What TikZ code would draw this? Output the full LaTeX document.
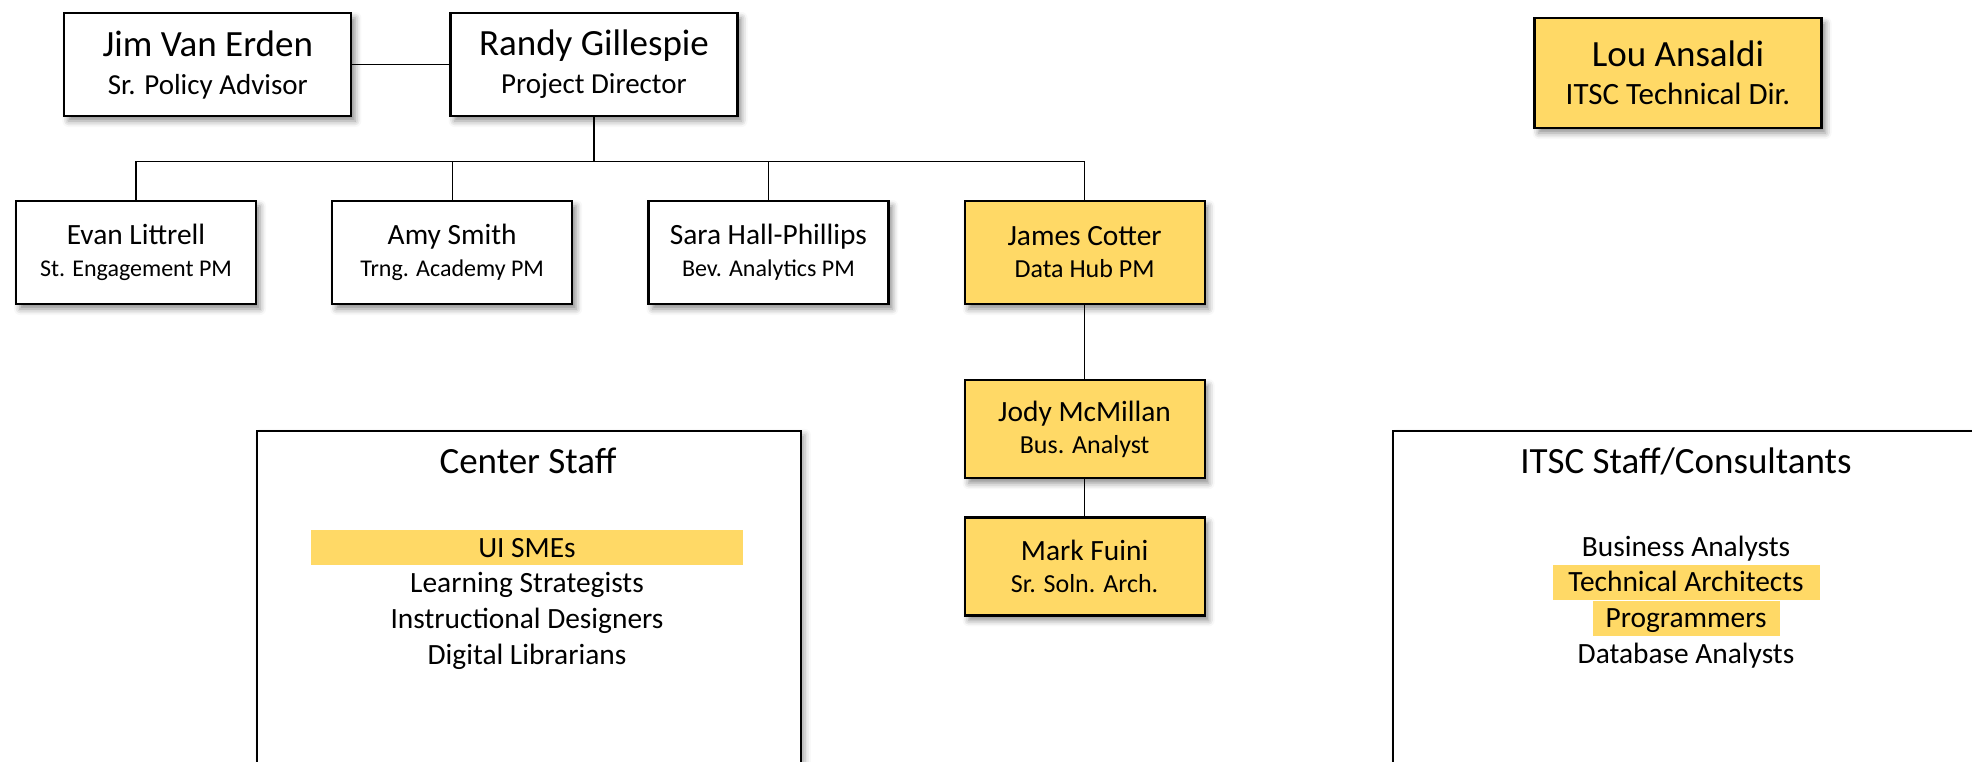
\documentclass[tikz,border=0pt]{standalone}
\usepackage{fontspec}
\setmainfont{Carlito}
\usepackage{tikz}
\usetikzlibrary{positioning, shadows.blur}

\definecolor{hubgold}{HTML}{FFD966}

\newcommand{\leadname}{\fontsize{18.5pt}{19pt}\selectfont}
\newcommand{\leadrole}{\fontsize{14.5pt}{19pt}\selectfont}
\newcommand{\pmname}{\fontsize{14.7pt}{16pt}\selectfont}
\newcommand{\pmrole}{\fontsize{12pt}{16pt}\selectfont}
\newcommand{\hubrole}{\fontsize{13pt}{16pt}\selectfont}
\newcommand{\rosterfont}{\fontsize{14.7pt}{17.5pt}\selectfont}
\newcommand{\paneltitlefont}{\fontsize{18.5pt}{20pt}\selectfont}

\tikzset{
  staffbox/.style={draw, line width=1.1pt, fill=white, align=center, inner sep=0pt,
    blur shadow={shadow xshift=2pt, shadow yshift=-2.5pt, shadow blur radius=3pt, shadow opacity=45}},
  leadbox/.style={staffbox, minimum width=143.5pt, minimum height=51.5pt, font=\leadrole},
  pmbox/.style={staffbox, minimum width=120pt, minimum height=51.5pt, font=\pmrole},
  hubbox/.style={pmbox, fill=hubgold, minimum height=49pt, font=\hubrole},
  panel/.style={draw, line width=0.9pt, fill=white, anchor=north west, inner sep=0pt,
    blur shadow={shadow xshift=2pt, shadow yshift=-2pt, shadow blur radius=3pt, shadow opacity=35}},
  paneltitle/.style={font=\paneltitlefont, anchor=base, inner sep=0pt},
  roster/.style={font=\rosterfont, inner sep=0pt, text height=13.5pt, text depth=4pt},
  highlit/.style={roster, fill=hubgold},
  link/.style={draw, line width=0.6pt}
}

\begin{document}
\begin{tikzpicture}[x=0.5pt, y=-0.5pt]
  \useasboundingbox (0,0) rectangle (1972,761);
  \clip (0,0) rectangle (1972,761);

  % staff panels
  \node[panel, minimum width=272pt, minimum height=200pt] (centerpanel) at (256,430) {};
  \node[panel, minimum width=300pt, minimum height=200pt] (itscpanel) at (1392,430) {};

  \node[paneltitle] (centertitle) at (528,473) {Center Staff};
  \node[highlit, minimum width=216pt, anchor=base] (uisme) at (527,557) {UI SMEs};
  \node[roster, below=0pt of uisme] (learning) {Learning Strategists};
  \node[roster, below=0pt of learning] (designers) {Instructional Designers};
  \node[roster, below=0pt of designers] (librarians) {Digital Librarians};

  \node[paneltitle] (itsctitle) at (1686,473) {ITSC Staff/Consultants};
  \node[roster, anchor=base] (business) at (1686,556) {Business Analysts};
  \node[highlit, minimum width=133.5pt, below=0pt of business] (techarch) {Technical Architects};
  \node[highlit, minimum width=93.5pt, below=0pt of techarch] (programmers) {Programmers};
  \node[roster, below=0pt of programmers] (database) {Database Analysts};

  % director and advisor
  \node[leadbox] (randy) at (594,64.5) {{\leadname Randy Gillespie}\\Project Director};
  \node[leadbox, left=48.5pt of randy] (jim) {{\leadname Jim Van Erden}\\Sr. Policy Advisor};

  % project managers
  \node[pmbox] (evan) at (136,252.5) {{\pmname Evan Littrell}\\St. Engagement PM};
  \node[pmbox, right=37pt of evan] (amy) {{\pmname Amy Smith}\\Trng. Academy PM};
  \node[pmbox, right=37pt of amy] (sara) {{\pmname Sara Hall-Phillips}\\Bev. Analytics PM};
  \node[hubbox, minimum height=51.5pt, right=37pt of sara] (james) {{\pmname James Cotter}\\Data Hub PM};

  % data hub team
  \node[hubbox, below=37pt of james] (jody) {{\pmname Jody McMillan}\\Bus. Analyst};
  \node[hubbox, below=18.5pt of jody] (mark) {{\pmname Mark Fuini}\\Sr. Soln. Arch.};

  % ITSC director
  \node[leadbox, fill=hubgold, minimum height=55pt, font=\fontsize{15.5pt}{19pt}\selectfont] (lou) at (1678,73)
    {{\leadname Lou Ansaldi}\\ITSC Technical Dir.};

  % connectors
  \draw[link] (jim) -- (randy);
  \draw[link] (randy.south) -- ++(0,-22pt) -| (evan.north);
  \draw[link] (randy.south) -- ++(0,-22pt) -| (amy.north);
  \draw[link] (randy.south) -- ++(0,-22pt) -| (sara.north);
  \draw[link] (randy.south) -- ++(0,-22pt) -| (james.north);
  \draw[link] (james) -- (jody);
  \draw[link] (jody) -- (mark);
\end{tikzpicture}
\end{document}
